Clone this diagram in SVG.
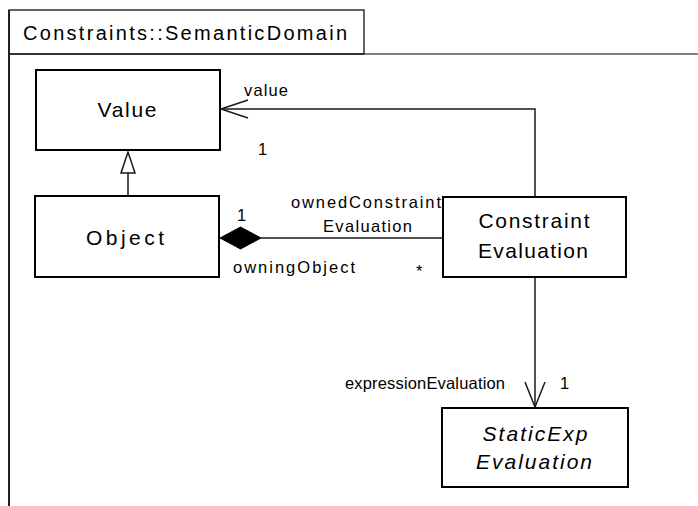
<svg xmlns="http://www.w3.org/2000/svg" width="698" height="506" viewBox="0 0 698 506">
<style>
text { font-family: "Liberation Sans", Arial, sans-serif; fill: #000; }
.title { font-size: 20px; }
.name { font-size: 21px; text-anchor: middle; }
.abs { font-style: italic; }
.lbl { font-size: 16.5px; }
.box { fill: #fff; stroke: #000; stroke-width: 2; }
.edge { fill: none; stroke: #1a1a1a; stroke-width: 1.5; }
</style>
<rect width="698" height="506" fill="#fff"/>
<g id="package">
  <rect x="9" y="10" width="355" height="44" fill="#fff" stroke="#000" stroke-width="1.2"/>
  <line x1="9" y1="54" x2="698" y2="54" stroke="#000" stroke-width="1.2"/>
  <line x1="9" y1="10" x2="9" y2="506" stroke="#222" stroke-width="2"/>
  <text class="title" x="23" y="40" textLength="324" lengthAdjust="spacing">Constraints::SemanticDomain</text>
</g>
<g id="connectors">
  <line class="edge" x1="128" y1="196" x2="128" y2="173"/>
  <polygon points="128,152 121,173 135,173" fill="#fff" stroke="#1a1a1a" stroke-width="1.5"/>
  <polyline class="edge" points="535,197 535,109 221,109"/>
  <polyline class="edge" points="248,100 221,109 248,118"/>
  <line class="edge" x1="261" y1="238" x2="443" y2="238"/>
  <polygon points="220,238 240.5,227 261,238 240.5,249" fill="#000" stroke="#000" stroke-width="1"/>
  <line class="edge" x1="535" y1="277" x2="535" y2="407"/>
  <polyline class="edge" points="525,382 535,407 545,382"/>
  <text class="lbl" x="244" y="96" textLength="44" lengthAdjust="spacing">value</text>
  <text class="lbl" x="258" y="155">1</text>
  <text class="lbl" x="237" y="221">1</text>
  <text class="lbl" x="291" y="208" textLength="150" lengthAdjust="spacing">ownedConstraint</text>
  <text class="lbl" x="323" y="232" textLength="89" lengthAdjust="spacing">Evaluation</text>
  <text class="lbl" x="233" y="273" textLength="122" lengthAdjust="spacing">owningObject</text>
  <text class="lbl" x="416" y="277">*</text>
  <text class="lbl" x="345" y="389" textLength="160" lengthAdjust="spacing">expressionEvaluation</text>
  <text class="lbl" x="560" y="389">1</text>
</g>
<g id="Value">
  <rect class="box" x="36" y="70" width="184" height="80"/>
  <text class="name" x="127" y="117" textLength="59" lengthAdjust="spacing">Value</text>
</g>
<g id="Object">
  <rect class="box" x="35" y="196" width="184" height="81"/>
  <text class="name" x="125" y="245" textLength="78" lengthAdjust="spacing">Object</text>
</g>
<g id="ConstraintEvaluation">
  <rect class="box" x="443" y="197" width="183" height="80"/>
  <text class="name" x="534" y="228" textLength="111" lengthAdjust="spacing">Constraint</text>
  <text class="name" x="533" y="258" textLength="110" lengthAdjust="spacing">Evaluation</text>
</g>
<g id="StaticExpEvaluation">
  <rect class="box" x="442" y="408" width="186" height="79"/>
  <text class="name abs" x="535" y="441" textLength="105" lengthAdjust="spacing">StaticExp</text>
  <text class="name abs" x="534" y="469" textLength="116" lengthAdjust="spacing">Evaluation</text>
</g>
</svg>
